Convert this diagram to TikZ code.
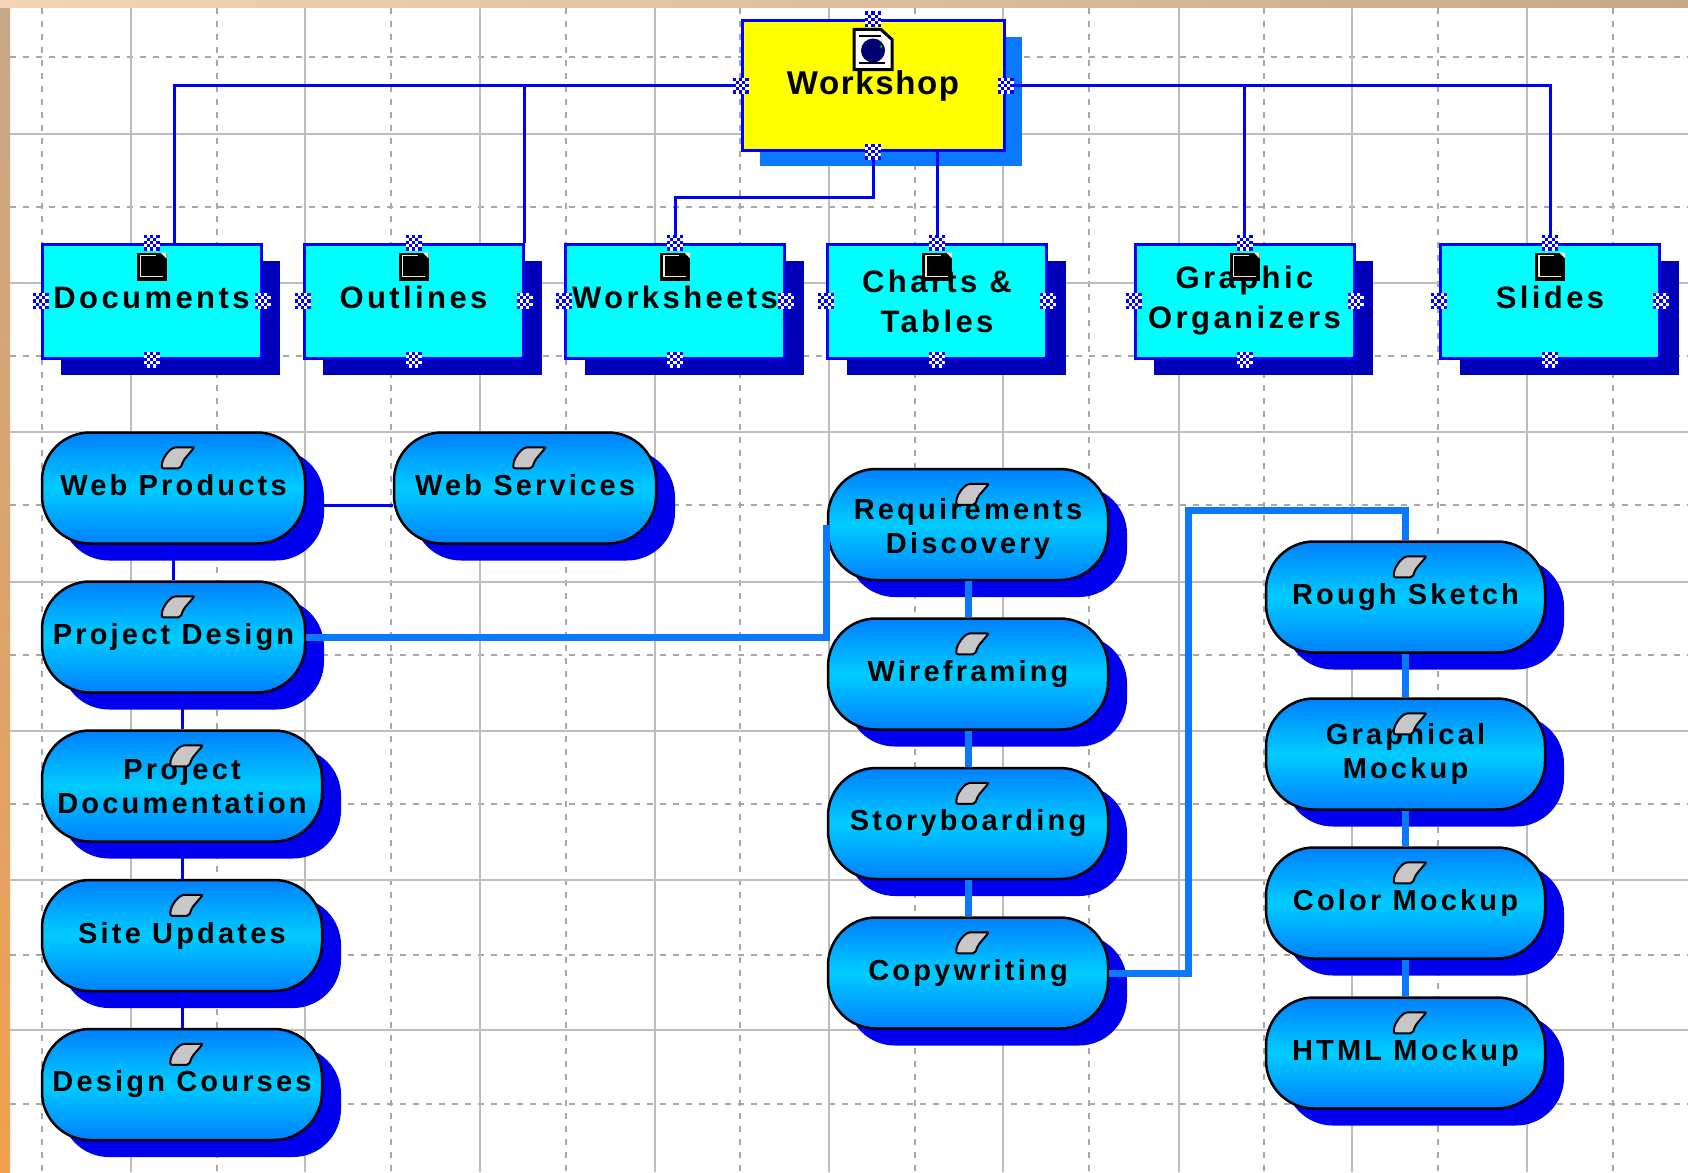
\documentclass[tikz,border=0pt]{standalone}
\usepackage{fontspec}
\usetikzlibrary{shadows}
\newfontfamily\topfont[LetterSpace=5]{Liberation Sans Bold}
\newfontfamily\boxfont[LetterSpace=11]{Liberation Sans Bold}
\definecolor{gridsolid}{HTML}{BDBDBD}
\definecolor{griddash}{HTML}{A8A8A8}
\definecolor{linkblue}{HTML}{0000FF}
\definecolor{linkthick}{HTML}{0A78FF}
\definecolor{shadowdark}{HTML}{0000B8}
\definecolor{shadowpill}{HTML}{0000EE}
\definecolor{pillouter}{HTML}{0080FF}
\definecolor{pillmid}{HTML}{00CCFF}
\definecolor{boxcyan}{HTML}{00FFFF}
\definecolor{boxyellow}{HTML}{FFFF00}
\definecolor{iconcream}{HTML}{F0EEC8}
\tikzset{
	topbox/.style={draw=linkblue,line width=3pt,fill=boxyellow,minimum width=262pt,minimum height=129pt,inner sep=0pt,align=center,font=\topfont\fontsize{33}{38}\selectfont,copy shadow={shadow xshift=18pt,shadow yshift=-16pt,draw=none,fill=linkthick}},
	itembox/.style={draw=linkblue,line width=3pt,fill=boxcyan,minimum width=219pt,minimum height=114pt,inner sep=0pt,align=center,font=\boxfont\fontsize{31}{40}\selectfont,copy shadow={shadow xshift=19pt,shadow yshift=-17pt,draw=none,fill=shadowdark}},
	pill/.style={draw=black,line width=2.5pt,rounded corners=48pt,top color=pillouter,bottom color=pillouter,middle color=pillmid,inner sep=0pt,align=center,minimum height=111pt,font=\boxfont\fontsize{29}{34.5}\selectfont,copy shadow={shadow xshift=19pt,shadow yshift=-17pt,draw=none,fill=shadowpill}},
	thinlink/.style={linkblue,line width=3pt},
	thicklink/.style={linkthick,line width=7pt},
	docicon/.pic={
		\fill[black] (-15,-14) rectangle (15,14);
		\draw[iconcream,line width=1.5pt] (4,-11) -- (-11,-11) -- (-11,10) -- (11,10);
		\fill[iconcream] (4,-14) -- (9,-14) -- (15,-8) -- (15,-14) -- cycle;
	},
	webicon/.pic={
		\filldraw[fill=white,draw=black,line width=3pt] (-19,-20) -- (8,-20) -- (19,-10) -- (19,20) -- (-19,20) -- cycle;
		\draw[black,line width=2pt] (-14,-13) -- (8,-13) (-14,14) -- (12,14);
		\fill[blue!45!black] (0,1) circle (12);
		\fill[green!70!black] (8,-3) circle (1.5);
	},
	leaficon/.pic={
		\filldraw[fill=black!22,draw=black,line width=2pt,rounded corners=2pt] (-10,-5) -- (-4,-10) -- (17,-10) -- (6,3) -- (3,11) -- (-16,11) -- (-15,3) -- cycle;
	},
	handle/.pic={
		\fill[white] (-8,-8) rectangle (8,8);
		\foreach \i/\j in {-2/-2,2/-2,-2/2,2/2,-1/-1,1/-1,-1/1,1/1,0/0,-2/0,2/0,0/-2,0/2}
			\fill[linkblue] (3.2*\i-1.6,3.2*\j-1.6) rectangle ++(3.2,3.2);
	}
}
\begin{document}
\begin{tikzpicture}[x=1pt,y=-1pt]
	\useasboundingbox (0,0) rectangle (1688,1172);
	
	% Fundo
	\definecolor{bandtop}{HTML}{C8A888}
	\definecolor{bandmid}{HTML}{C6A47C}
	\definecolor{bandlow}{HTML}{F0A050}
	\fill[white] (0,0) rectangle (1688,1172);
	\shade[top color=bandtop,middle color=bandmid,bottom color=bandlow] (0,0) rectangle (10,1172);
	\shade[left color=bandtop!50!orange!40,right color=bandtop] (0,0) rectangle (1688,8);
	
	% Grade
	\foreach \x in {42,217,391,566,740,915,1089,1264,1438,1613}
		\draw[griddash,line width=2pt,dash pattern=on 6pt off 7pt] (\x,8) -- (\x,1172);
	\foreach \y in {57,207,356,505,655,804,955,1104}
		\draw[griddash,line width=2pt,dash pattern=on 6pt off 7pt] (10,\y) -- (1688,\y);
	\foreach \x in {131,305,480,655,829,1003,1179,1352,1527}
		\draw[gridsolid,line width=2pt] (\x,8) -- (\x,1172);
	\foreach \y in {134,283,432,582,731,880,1030}
		\draw[gridsolid,line width=2pt] (10,\y) -- (1688,\y);
	
	% Caixas de cima
	\node[topbox] (work) at (873,85.5) {Workshop};
	\node[itembox,text depth=6.5pt] (docs) at (151.5,301) {Documents};
	\node[itembox,text depth=6.5pt] (outl) at (413.5,301) {Outlines};
	\node[itembox,text depth=6.5pt] (wksh) at (675,301) {Worksheets};
	\node[itembox] (chart) at (937,301) {Charts \&\\Tables};
	\node[itembox] (graph) at (1244.5,301) {Graphic\\Organizers};
	\node[itembox,text depth=6.5pt] (slide) at (1550,301) {Slides};
	
	% Coluna esquerda
	\node[pill,minimum width=263pt,text depth=6.5pt] (wprod) at (173.5,488) {Web Products};
	\node[pill,minimum width=262pt,text depth=6.5pt] (wserv) at (525,488) {Web Services};
	\node[pill,minimum width=263pt] (pdes) at (173.5,637) {Project Design};
	\node[pill,minimum width=280pt] (pdoc) at (182,786) {Project\\Documentation};
	\node[pill,minimum width=280pt] (site) at (182,935.5) {Site Updates};
	\node[pill,minimum width=280pt] (dcou) at (182,1084.5) {Design Courses};
	
	% Coluna do meio
	\node[pill,minimum width=280pt,text height=65pt] (reqd) at (968,524.5) {Requirements\\Discovery};
	\node[pill,minimum width=280pt] (wire) at (968,674) {Wireframing};
	\node[pill,minimum width=280pt] (story) at (968,823.5) {Storyboarding};
	\node[pill,minimum width=280pt] (copyw) at (968,973) {Copywriting};
	
	% Coluna direita
	\node[pill,minimum width=279pt] (rough) at (1405.5,597) {Rough Sketch};
	\node[pill,minimum width=279pt] (gmock) at (1405.5,754) {Graphical\\Mockup};
	\node[pill,minimum width=279pt] (cmock) at (1405.5,903) {Color Mockup};
	\node[pill,minimum width=279pt] (hmock) at (1405.5,1053) {HTML Mockup};
	
	% Ligacoes finas
	\draw[thinlink] (work.west) -| ([xshift=23pt]docs.north);
	\draw[thinlink] (work.west) -| (outl.north east);
	\draw[thinlink] (work.south) -- ++(0,46) -| (wksh.north);
	\draw[thinlink] (work.south -| chart.north) -- (chart.north);
	\draw[thinlink] (work.east) -| (graph.north);
	\draw[thinlink] (work.east) -| (slide.north);
	\draw[thinlink] ([yshift=-17pt]wprod.east) -- ([yshift=-17pt]wserv.west);
	\draw[thinlink] (wprod.south) -- (pdes.north);
	\draw[thinlink] (pdes.south -| pdoc.north) -- (pdoc.north);
	\draw[thinlink] (pdoc.south) -- (site.north);
	\draw[thinlink] (site.south) -- (dcou.north);
	
	% Ligacoes grossas
	\coordinate (bend) at (1188,510);
	\draw[thicklink] (pdes.east) -| (reqd.west);
	\draw[thicklink] (reqd.south) -- (wire.north);
	\draw[thicklink] (wire.south) -- (story.north);
	\draw[thicklink] (story.south) -- (copyw.north);
	\draw[thicklink] (copyw.east) -| (bend) -| (rough.north);
	\draw[thicklink] (rough.south) -- (gmock.north);
	\draw[thicklink] (gmock.south) -- (cmock.north);
	\draw[thicklink] (cmock.south) -- (hmock.north);
	
	% Icones
	\pic at ([yshift=-30pt]work.north) {webicon};
	\foreach \n in {docs,outl,wksh,chart,graph,slide}
		\pic at ([yshift=-24pt]\n.north) {docicon};
	\foreach \n in {wprod,wserv,pdes,pdoc,site,dcou,reqd,wire,story,copyw,rough,gmock,cmock,hmock}
		\pic at ([xshift=4pt,yshift=-26pt]\n.north) {leaficon};
	
	% Marcadores
	\foreach \n in {work,docs,outl,wksh,chart,graph,slide}
		\foreach \a in {north,south,east,west}
			\pic at (\n.\a) {handle};
\end{tikzpicture}
\end{document}
